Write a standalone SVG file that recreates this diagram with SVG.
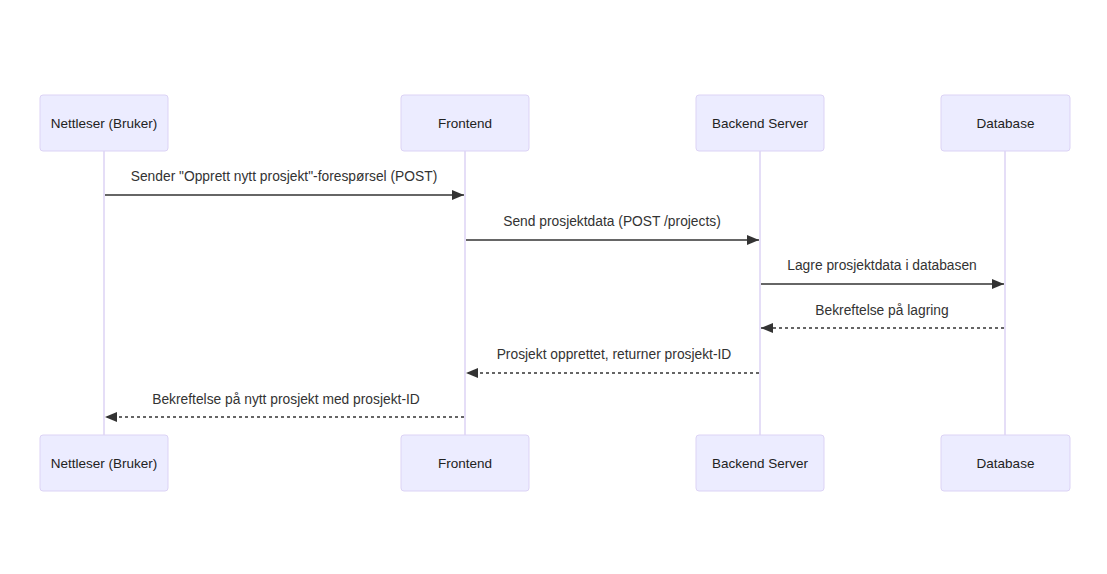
<svg xmlns="http://www.w3.org/2000/svg" width="1107" height="574" viewBox="0 0 1107 574">
<style>
.actor{fill:#ECECFF;stroke:#DCD3F5;stroke-width:1}
.atext{font-family:"Liberation Sans",Arial,sans-serif;font-size:13.5px;fill:#222;text-anchor:middle;dominant-baseline:central}
.life{stroke:#DCD3F5;stroke-width:1.5;fill:none}
.msg{stroke:#333;stroke-width:1.3;fill:none}
.dash{stroke-dasharray:3,3}
.mtext{font-family:"Liberation Sans",Arial,sans-serif;font-size:13.8px;fill:#333;text-anchor:middle;dominant-baseline:central}
</style>
<defs>
<marker id="ah" viewBox="0 0 12 10" refX="12" refY="5" markerWidth="12" markerHeight="10" markerUnits="userSpaceOnUse" orient="auto">
<path d="M0,0 L12,5 L0,10 z" fill="#333"/>
</marker>
</defs>
<rect width="1107" height="574" fill="#fff"/>
<g id="lifelines">
<line class="life" x1="104" y1="151" x2="104" y2="435"/>
<line class="life" x1="465" y1="151" x2="465" y2="435"/>
<line class="life" x1="760" y1="151" x2="760" y2="435"/>
<line class="life" x1="1005" y1="151" x2="1005" y2="435"/>
</g>
<g id="actor-nettleser-top"><rect class="actor" x="40" y="95" width="128" height="56" rx="3"/><text class="atext" x="104" y="123">Nettleser (Bruker)</text></g>
<g id="actor-frontend-top"><rect class="actor" x="401" y="95" width="128" height="56" rx="3"/><text class="atext" x="465" y="123">Frontend</text></g>
<g id="actor-backend-top"><rect class="actor" x="696" y="95" width="128" height="56" rx="3"/><text class="atext" x="760" y="123">Backend Server</text></g>
<g id="actor-database-top"><rect class="actor" x="941" y="95" width="129" height="56" rx="3"/><text class="atext" x="1005.5" y="123">Database</text></g>
<g id="actor-nettleser-bottom"><rect class="actor" x="40" y="435" width="128" height="56" rx="3"/><text class="atext" x="104" y="463">Nettleser (Bruker)</text></g>
<g id="actor-frontend-bottom"><rect class="actor" x="401" y="435" width="128" height="56" rx="3"/><text class="atext" x="465" y="463">Frontend</text></g>
<g id="actor-backend-bottom"><rect class="actor" x="696" y="435" width="128" height="56" rx="3"/><text class="atext" x="760" y="463">Backend Server</text></g>
<g id="actor-database-bottom"><rect class="actor" x="941" y="435" width="129" height="56" rx="3"/><text class="atext" x="1005.5" y="463">Database</text></g>
<g id="messages">
<line class="msg" x1="105" y1="195" x2="464" y2="195" marker-end="url(#ah)"/>
<text class="mtext" x="284" y="176">Sender "Opprett nytt prosjekt"-forespørsel (POST)</text>
<line class="msg" x1="466" y1="240" x2="759" y2="240" marker-end="url(#ah)"/>
<text class="mtext" x="612" y="221">Send prosjektdata (POST /projects)</text>
<line class="msg" x1="761" y1="284" x2="1004" y2="284" marker-end="url(#ah)"/>
<text class="mtext" x="882" y="265">Lagre prosjektdata i databasen</text>
<line class="msg dash" x1="1004" y1="328" x2="761" y2="328" marker-end="url(#ah)"/>
<text class="mtext" x="882" y="310">Bekreftelse på lagring</text>
<line class="msg dash" x1="759" y1="373" x2="466" y2="373" marker-end="url(#ah)"/>
<text class="mtext" x="614" y="354">Prosjekt opprettet, returner prosjekt-ID</text>
<line class="msg dash" x1="464" y1="417" x2="105" y2="417" marker-end="url(#ah)"/>
<text class="mtext" x="286" y="399">Bekreftelse på nytt prosjekt med prosjekt-ID</text>
</g>
</svg>
